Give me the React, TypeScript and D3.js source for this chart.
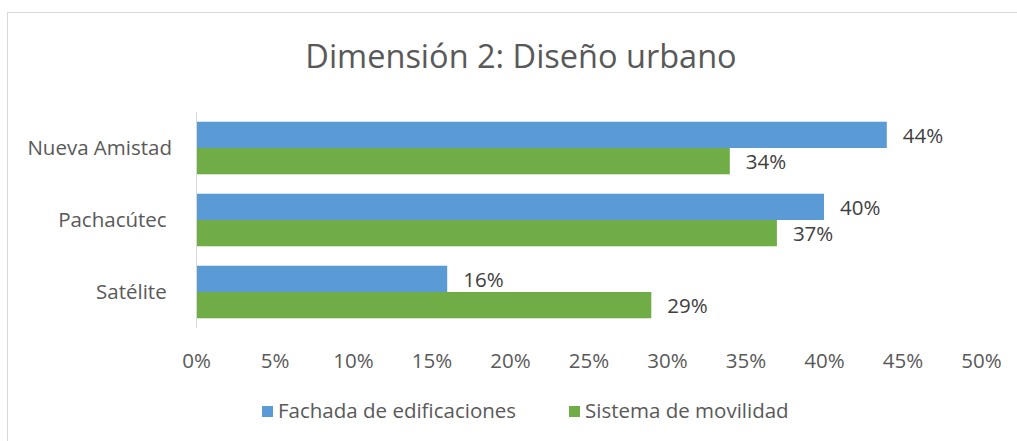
import React, { useEffect, useRef } from 'react';
import * as d3 from 'd3';

const title = 'Dimensión 2: Diseño urbano';
const categories = ['Nueva Amistad', 'Pachacútec ', 'Satélite '];
const seriesNames = ['Fachada de edificaciones', 'Sistema de movilidad'];
const fachada = [44, 40, 16];
const movilidad = [34, 37, 29];
const xTicks = [0, 5, 10, 15, 20, 25, 30, 35, 40, 45, 50];
const colors = ['#5B9BD5', '#70AD47'];

const App = () => {
  const svgRef = useRef<SVGSVGElement>(null);

  useEffect(() => {
    const w = 1017;
    const h = 441;
    const left = 196;
    const right = 981;
    const top = 112;
    const bottom = 328;
    const font = "'Open Sans', sans-serif";
    const textColor = '#595959';

    const svg = d3.select(svgRef.current)
      .attr('width', w)
      .attr('height', h);
    svg.selectAll('*').remove();

    svg.append('rect')
      .attr('width', w)
      .attr('height', h)
      .attr('fill', '#fff');

    // outer chart frame
    svg.append('rect')
      .attr('x', 7.5)
      .attr('y', 12.5)
      .attr('width', w + 10)
      .attr('height', h + 10)
      .attr('fill', 'none')
      .attr('stroke', '#D9D9D9');

    svg.append('text')
      .text(title)
      .attr('x', 521)
      .attr('y', 68)
      .attr('text-anchor', 'middle')
      .attr('font-family', font)
      .attr('font-size', 32.5)
      .attr('fill', textColor);

    const xScale = d3.scaleLinear().domain([0, 50]).range([left, right]);
    const yScale = d3.scaleBand<string>()
      .domain(categories)
      .range([top, bottom])
      .paddingInner(0.27)
      .paddingOuter(0.135);
    const sub = d3.scaleBand<number>()
      .domain([0, 1])
      .range([0, yScale.bandwidth()]);

    const rows = categories.map((c, i) => ({ c, vals: [fachada[i], movilidad[i]] }));

    const groups = svg.selectAll('g.row')
      .data(rows)
      .enter()
      .append('g')
      .attr('transform', (d) => `translate(0,${yScale(d.c)})`);

    groups.selectAll('rect')
      .data((d) => d.vals)
      .enter()
      .append('rect')
      .attr('x', left)
      .attr('y', (_d, j) => sub(j)!)
      .attr('width', (d) => xScale(d) - left)
      .attr('height', sub.bandwidth())
      .attr('fill', (_d, j) => colors[j]);

    groups.selectAll('text.val')
      .data((d) => d.vals)
      .enter()
      .append('text')
      .text((d) => `${d}%`)
      .attr('x', (d) => xScale(d) + 16)
      .attr('y', (_d, j) => sub(j)! + sub.bandwidth() / 2 + 1)
      .attr('dy', '0.35em')
      .attr('font-family', font)
      .attr('font-size', 20.5)
      .attr('fill', '#404040');

    // category labels
    svg.selectAll('text.cat')
      .data(categories)
      .enter()
      .append('text')
      .text((d) => d)
      .attr('x', left - 24)
      .attr('y', (d) => yScale(d)! + yScale.bandwidth() / 2)
      .attr('dy', '0.35em')
      .attr('text-anchor', 'end')
      .style('white-space', 'pre')
      .attr('font-family', font)
      .attr('font-size', 20.5)
      .attr('fill', textColor);

    // value axis line
    svg.append('line')
      .attr('x1', left + 0.5)
      .attr('x2', left + 0.5)
      .attr('y1', top)
      .attr('y2', bottom)
      .attr('stroke', '#D9D9D9');

    const xAxis = d3.axisBottom(xScale)
      .tickValues(xTicks)
      .tickSize(0)
      .tickFormat((d) => `${d}%`);

    const ax = svg.append('g')
      .attr('transform', `translate(0,${bottom + 22})`)
      .call(xAxis);
    ax.select('.domain').remove();
    ax.selectAll('text')
      .attr('font-family', font)
      .attr('font-size', 20.5)
      .attr('fill', textColor);

    // legend
    const legendX = [262, 569];
    const legend = svg.selectAll('g.legend')
      .data(seriesNames)
      .enter()
      .append('g')
      .attr('transform', (_d, i) => `translate(${legendX[i]},411)`);
    legend.append('rect')
      .attr('x', 0)
      .attr('y', -5)
      .attr('width', 11)
      .attr('height', 11)
      .attr('fill', (_d, i) => colors[i]);
    legend.append('text')
      .text((d) => d)
      .attr('x', 16)
      .attr('dy', '0.35em')
      .attr('font-family', font)
      .attr('font-size', 20.5)
      .attr('fill', textColor);
  }, []);

  return (
    <svg ref={svgRef} style={{ position: 'absolute', left: 0, top: 0 }}></svg>
  );
};

export default App;
